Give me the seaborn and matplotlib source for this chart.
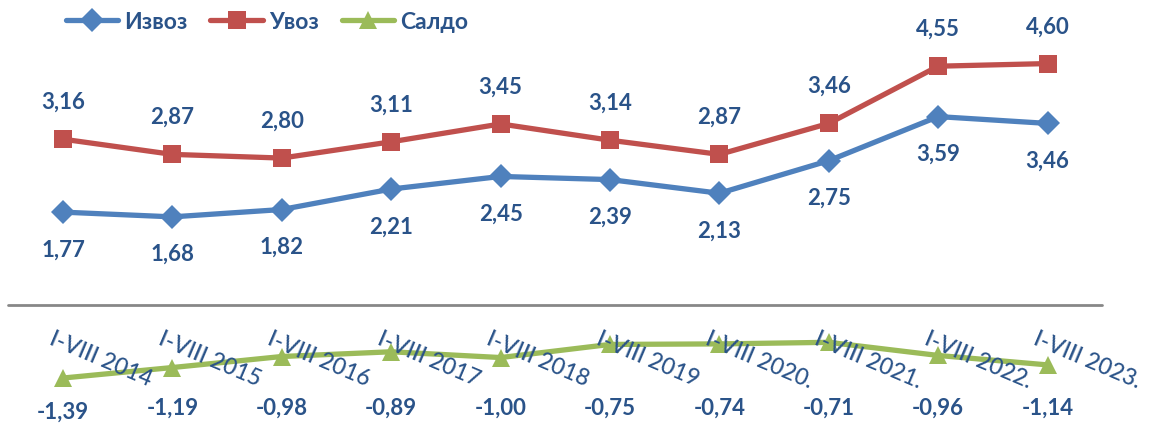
import pandas as pd
import matplotlib.pyplot as plt
import seaborn as sns
from matplotlib.lines import Line2D

periods = ["I-VIII 2014", "I-VIII 2015", "I-VIII 2016", "I-VIII 2017", "I-VIII 2018",
           "I-VIII 2019", "I-VIII 2020.", "I-VIII 2021.", "I-VIII 2022.", "I-VIII 2023."]
izvoz = [1.77, 1.68, 1.82, 2.21, 2.45, 2.39, 2.13, 2.75, 3.59, 3.46]
uvoz = [3.16, 2.87, 2.80, 3.11, 3.45, 3.14, 2.87, 3.46, 4.55, 4.60]
saldo = [-1.39, -1.19, -0.98, -0.89, -1.00, -0.75, -0.74, -0.71, -0.96, -1.14]

series_names = ["Извоз", "Увоз", "Салдо"]
colors = ["#4F81BD", "#C0504D", "#9BBB59"]
markers = ["D", "s", "^"]
text_color = "#2A5389"

sns.set_theme(style="white")
plt.rcParams["font.family"] = ["Lato", "DejaVu Sans"]

df = pd.DataFrame({"pos": range(len(periods)), "Извоз": izvoz, "Увоз": uvoz, "Салдо": saldo})

fig = plt.figure(figsize=(11.57, 4.31), dpi=100)
ax = fig.add_axes([0, 0, 1, 1])

msizes = {"D": 12, "s": 13, "^": 13}
for name, col, mk in zip(series_names, colors, markers):
    sns.lineplot(data=df, x="pos", y=name, ax=ax, color=col, lw=3.8,
                 marker=mk, markersize=msizes[mk], markeredgewidth=0, legend=False)

# zero line
ax.plot([-0.5, 9.5], [0, 0], color="#878787", lw=2, zorder=0)

lbl = dict(color=text_color, fontsize=16, fontweight="bold", ha="center", va="center")
for i in range(len(periods)):
    ax.text(i, izvoz[i] - 0.70, f"{izvoz[i]:.2f}".replace(".", ","), **lbl)
    ax.text(i, uvoz[i] + 0.72, f"{uvoz[i]:.2f}".replace(".", ","), **lbl)
    ax.text(i, min(saldo[i] - 0.63, -1.94), f"{saldo[i]:.2f}".replace(".", ","), **lbl)
    ax.text(i - 0.08, -0.42, periods[i], color=text_color, fontsize=16.5, fontweight="medium",
            rotation=-23, rotation_mode="anchor", ha="left", va="top")

handles = [Line2D([], [], color=c, lw=3.8, marker=m, markersize=msizes[m], markeredgewidth=0)
           for c, m in zip(colors, markers)]
leg = ax.legend(handles, series_names, loc="center left", bbox_to_anchor=(0.039, 0.948),
                ncol=3, frameon=False, handlelength=2.3, handletextpad=0.25, columnspacing=1.0,
                prop={"size": 16.5, "weight": "bold"})
for t in leg.get_texts():
    t.set_color(text_color)

ax.set_xlim(-0.576, 10.0)
ax.set_ylim(-2.38, 5.83)
ax.axis("off")

fig.savefig("out.png", dpi=100)
